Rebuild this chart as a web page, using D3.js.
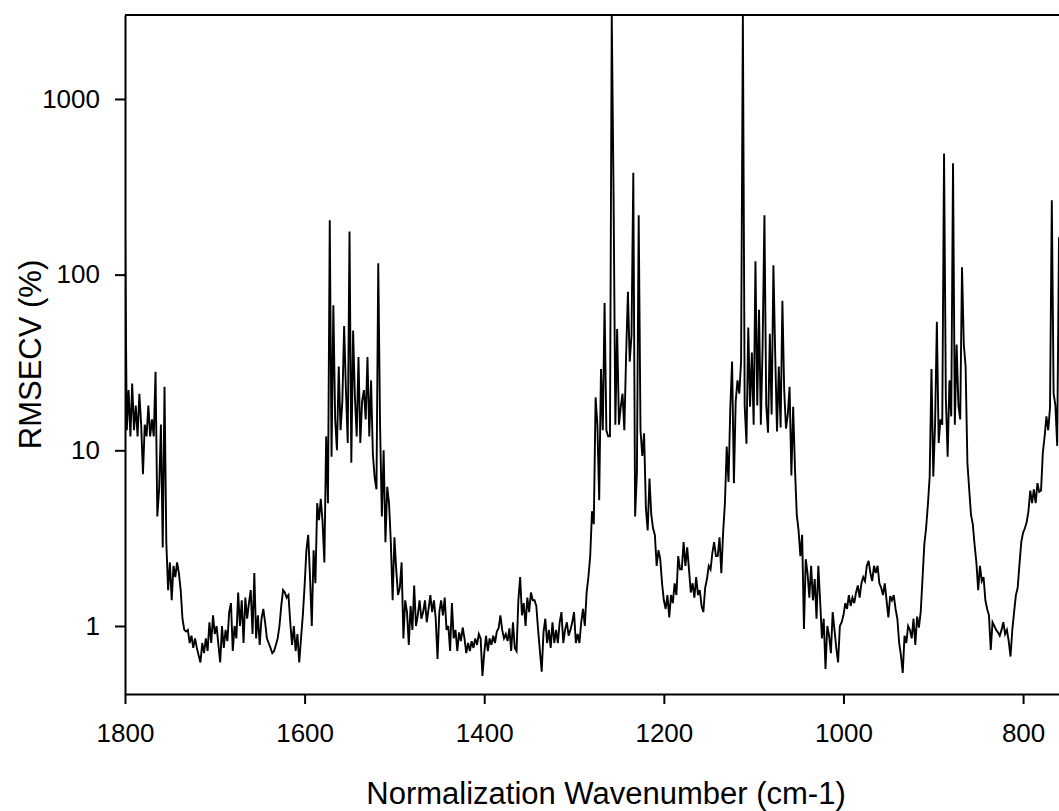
<!DOCTYPE html>
<html>
<head>
<meta charset="utf-8">
<script src="https://cdn.jsdelivr.net/npm/d3@7"></script>
<style>
  html, body { margin: 0; padding: 0; background: #fff; }
  svg { display: block; }
</style>
</head>
<body>
<div class="svg-container"></div>
<script>
// spectrum sampled every 2 cm-1, 1800 -> 760
const wavenumbers = d3.range(1800, 759, -2);

const rmsecv = [
  // 1800
  200, 13, 22, 12, 24, 13, 18, 12, 21, 14,
  // 1780
  7.3, 14, 12, 18, 12, 15, 12, 28, 4.2, 6,
  // 1760
  14, 2.8, 23, 3.0, 1.6, 2.3, 1.4, 2.2, 1.9, 2.3,
  // 1740
  2.0, 1.6, 1.1, 0.95, 0.93, 0.95, 0.8, 0.88, 0.75, 0.85,
  // 1720
  0.75, 0.68, 0.62, 0.8, 0.7, 0.85, 0.72, 1.05, 0.8, 1.15,
  // 1700
  0.9, 1.0, 0.78, 0.62, 1.0, 0.75, 0.95, 0.82, 1.2, 1.35,
  // 1680
  0.72, 1.0, 0.85, 1.55, 1.0, 1.4, 0.8, 1.45, 1.1, 1.35,
  // 1660
  1.6, 0.9, 2.0, 0.85, 1.15, 0.78, 1.1, 1.25, 1.05, 0.85,
  // 1640
  0.8, 0.75, 0.7, 0.72, 0.78, 0.85, 1.0, 1.3, 1.6, 1.55,
  // 1620
  1.45, 1.5, 1.05, 0.78, 1.0, 0.72, 0.9, 0.62, 0.85, 1.15,
  // 1600
  1.7, 2.7, 3.3, 1.9, 1.0, 2.7, 1.75, 5.0, 4.0, 5.3,
  // 1580
  3.9, 2.3, 12, 5.0, 204, 9.2, 67, 15, 10, 30,
  // 1560
  13, 19, 51, 22, 11, 176, 8.5, 48, 20, 12,
  // 1540
  34, 11, 19, 22, 15, 34, 12, 25, 9.5, 7,
  // 1520
  6, 116, 14, 4.2, 10, 3.0, 6.2, 5, 3.0, 1.4,
  // 1500
  3.2, 2.1, 1.5, 1.65, 2.3, 0.85, 1.4, 1.2, 0.78, 1.3,
  // 1480
  0.95, 1.7, 1.0, 1.15, 1.4, 1.1, 1.2, 1.4, 1.05, 1.25,
  // 1460
  1.5, 1.2, 1.4, 1.1, 0.65, 1.2, 1.4, 1.15, 1.45, 0.95,
  // 1440
  1.0, 0.72, 1.35, 0.85, 0.95, 0.72, 0.92, 0.82, 0.98, 0.85,
  // 1420
  0.7, 0.8, 0.72, 0.82, 0.75, 0.85, 0.78, 0.9, 0.85, 0.52,
  // 1400
  0.7, 0.88, 0.72, 0.85, 0.78, 0.88, 0.8, 0.93, 0.97, 1.15,
  // 1380
  0.95, 0.85, 0.9, 0.82, 0.97, 0.72, 1.05, 0.75, 0.72, 1.4,
  // 1360
  1.9, 1.15, 1.35, 1.0, 1.45, 1.2, 1.55, 1.4, 1.4, 1.3,
  // 1340
  0.95, 0.72, 0.55, 0.92, 1.1, 0.8, 0.95, 0.75, 1.05, 0.8,
  // 1320
  0.95, 0.8, 1.05, 1.2, 0.8, 0.95, 1.05, 0.88, 0.95, 1.05,
  // 1300
  1.2, 0.8, 0.9, 0.8, 1.05, 1.25, 1.0, 1.55, 1.9, 2.5,
  // 1280
  4.5, 3.8, 20, 14, 5.2, 29, 13, 69, 13, 12,
  // 1260
  12, 3000, 290, 14, 49, 14, 17.7, 21, 13, 35,
  // 1240
  80, 32, 45, 380, 4.2, 7.4, 218, 13, 9.3, 12.5,
  // 1220
  4.7, 3.5, 6.9, 4.3, 3.6, 3.3, 2.2, 2.7, 2.4, 1.75,
  // 1200
  1.4, 1.25, 1.5, 1.12, 1.5, 1.35, 1.75, 1.5, 2.5, 2.1,
  // 1180
  2.1, 3.0, 2.2, 2.8, 2.1, 1.55, 1.75, 1.45, 1.9, 1.5,
  // 1160
  1.6, 1.3, 1.2, 1.65, 1.85, 2.2, 2.1, 2.6, 3.0, 2.5,
  // 1140
  2.5, 3.2, 2.0, 3.4, 5.0, 10.5, 6.6, 17.5, 32, 6.5,
  // 1120
  19, 25, 21, 32, 3000, 18, 10.9, 50, 17.7, 36,
  // 1100
  14, 119, 18, 63, 14, 40, 218, 18, 12.6, 46,
  // 1080
  16, 113, 35, 12.8, 30, 13.5, 71, 22, 13.3, 16,
  // 1060
  23, 7.2, 17.7, 7.9, 4.3, 3.5, 2.5, 3.3, 0.96, 2.4,
  // 1040
  2.0, 1.45, 2.2, 1.4, 1.85, 1.1, 2.2, 1.4, 0.85, 1.1,
  // 1020
  0.57, 1.0, 0.88, 0.7, 1.2, 0.95, 0.75, 0.62, 1.0, 1.05,
  // 1000
  1.15, 1.35, 1.25, 1.5, 1.3, 1.45, 1.35, 1.55, 1.7, 1.45,
  // 980
  1.75, 1.9, 1.8, 2.2, 2.35, 2.0, 1.8, 2.2, 2.0, 2.2,
  // 960
  1.75, 1.65, 1.5, 1.75, 1.4, 1.12, 1.48, 1.4, 1.5, 1.25,
  // 940
  1.1, 0.8, 0.68, 0.54, 0.88, 0.8, 1.0, 0.95, 0.85, 1.1,
  // 920
  0.78, 1.13, 0.98, 1.2, 1.85, 2.9, 3.6, 4.9, 7.1, 29,
  // 900
  7.1, 14, 54, 11, 15, 14, 490, 20, 9.2, 25,
  // 880
  15.6, 430, 14, 40, 18, 15, 110, 40, 30, 8.5,
  // 860
  6, 4.3, 3.8, 2.9, 2.3, 1.6, 2.2, 1.8, 1.9, 1.4,
  // 840
  1.25, 1.15, 0.73, 1.05, 1.0, 0.95, 0.92, 0.88, 0.95, 1.05,
  // 820
  0.9, 0.95, 0.82, 0.67, 0.95, 1.2, 1.5, 1.65, 2.25, 3.0,
  // 800
  3.4, 3.6, 3.9, 4.5, 5.9, 5.0, 6.0, 5.0, 6.5, 5.8,
  // 780
  5.9, 9.7, 12, 15.6, 13, 17.5, 265, 21, 18, 10.6,
  // 760
  163
];

const xTicks = [1800, 1600, 1400, 1200, 1000, 800];
const yTicks = [1, 10, 100, 1000];

const width = 1059;
const height = 811;
const margin = { top: 15, left: 125, bottom: 117, right: 0 };
const font = "'Liberation Sans', Arial, sans-serif";

const data = wavenumbers.map((w, i) => ({ w: w, v: rmsecv[i] }))
  .filter((d) => d.v !== undefined);

const x = d3.scaleLinear()
  .domain([1800, 760])
  .range([margin.left, width - margin.right]);

const y = d3.scaleLog()
  .domain([0.41, 3006])
  .range([height - margin.bottom, margin.top]);

const svg = d3.select("div.svg-container")
  .append("svg")
  .attr("width", width)
  .attr("height", height)
  .style("background-color", "#fff");

svg.append("clipPath")
  .attr("id", "plot-clip")
  .append("rect")
  .attr("x", margin.left)
  .attr("y", margin.top)
  .attr("width", width - margin.left - margin.right)
  .attr("height", height - margin.top - margin.bottom);

const line = d3.line()
  .x((d) => x(d.w))
  .y((d) => y(d.v));

svg.append("path")
  .datum(data)
  .attr("clip-path", "url(#plot-clip)")
  .attr("fill", "none")
  .attr("stroke", "#000")
  .attr("stroke-width", 1.9)
  .attr("d", line);

// top frame line
svg.append("line")
  .attr("x1", margin.left)
  .attr("x2", width)
  .attr("y1", margin.top)
  .attr("y2", margin.top)
  .attr("stroke", "#000")
  .attr("stroke-width", 2);

const xAxis = svg.append("g")
  .attr("transform", `translate(0,${height - margin.bottom})`)
  .call(d3.axisBottom(x)
    .tickValues(xTicks)
    .tickFormat(d3.format("d"))
    .tickSize(10)
    .tickSizeOuter(0)
    .tickPadding(20));

const yAxis = svg.append("g")
  .attr("transform", `translate(${margin.left},0)`)
  .call(d3.axisLeft(y)
    .tickValues(yTicks)
    .tickFormat(d3.format("d"))
    .tickSize(10)
    .tickSizeOuter(0)
    .tickPadding(15));

[xAxis, yAxis].forEach((g) => {
  g.select(".domain").attr("stroke", "#000").attr("stroke-width", 2);
  g.selectAll(".tick line").attr("stroke", "#000").attr("stroke-width", 2);
  g.selectAll(".tick text")
    .attr("fill", "#000")
    .style("font-family", font)
    .style("font-size", "26px");
});

svg.append("text")
  .attr("x", 606)
  .attr("y", 804)
  .attr("text-anchor", "middle")
  .style("font-family", font)
  .style("font-size", "31px")
  .text("Normalization Wavenumber (cm-1)");

svg.append("text")
  .attr("transform", `translate(41,${(margin.top + height - margin.bottom) / 2}) rotate(-90)`)
  .attr("text-anchor", "middle")
  .style("font-family", font)
  .style("font-size", "31px")
  .text("RMSECV (%)");
</script>
</body>
</html>
